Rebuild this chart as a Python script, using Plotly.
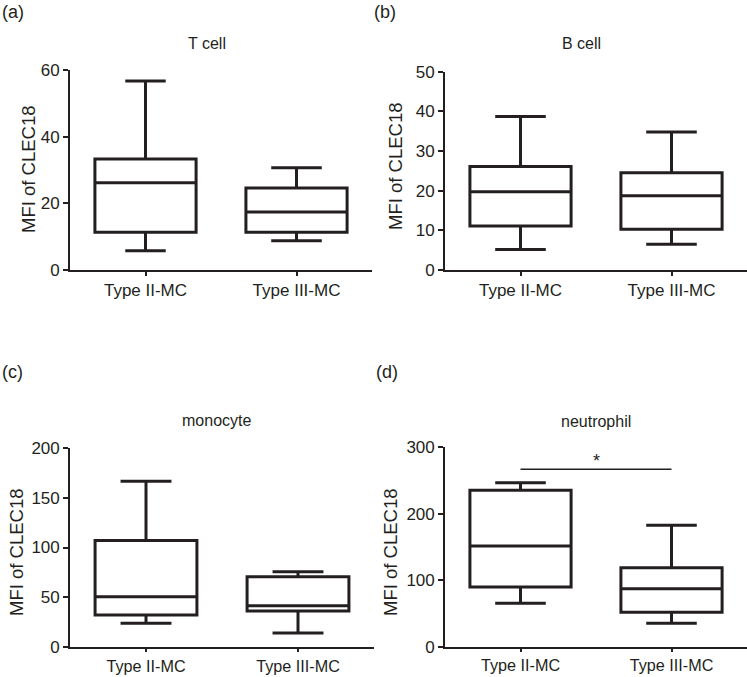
import plotly.graph_objects as go

# %% data
groups = ['Type II-MC', 'Type III-MC']
panels = ['T cell', 'B cell', 'monocyte', 'neutrophil']
letters = ['(a)', '(b)', '(c)', '(d)']

# per panel: [Type II, Type III]
t_min = [5.8, 8.8]
t_q1 = [11.3, 11.3]
t_med = [26.2, 17.4]
t_q3 = [33.3, 24.6]
t_max = [56.7, 30.7]

b_min = [5.2, 6.5]
b_q1 = [11.1, 10.3]
b_med = [19.7, 18.7]
b_q3 = [26.1, 24.5]
b_max = [38.7, 34.8]

m_min = [24.0, 14.3]
m_q1 = [32.3, 36.3]
m_med = [50.6, 41.6]
m_q3 = [107.0, 70.6]
m_max = [166.5, 75.7]

n_min = [65.3, 35.2]
n_q1 = [89.9, 51.8]
n_med = [151.6, 87.3]
n_q3 = [235.4, 118.9]
n_max = [246.8, 182.7]

y_max = [60, 50, 200, 300]
y_dtick = [20, 10, 50, 100]

stats = [
    (t_min, t_q1, t_med, t_q3, t_max),
    (b_min, b_q1, b_med, b_q3, b_max),
    (m_min, m_q1, m_med, m_q3, m_max),
    (n_min, n_q1, n_med, n_q3, n_max),
]

# %% layout in pixels
W, H = 747, 677
ink = '#231f20'
font = 'Liberation Sans, Arial, sans-serif'

# plot area boxes (x0, x1, ytop, ybottom) in px
areas = [(70, 372, 70, 270), (445, 747, 71.7, 270),
         (70, 374, 447.7, 647.3), (445, 747, 447.3, 646.7)]
title_pos = [(207, 43), (581, 43), (216, 420), (596, 421.7)]
letter_pos = [(0, 12), (372, 12), (0, 372), (374, 372)]
ylab_pos = [(28, 169), (395, 166), (16, 552), (390, 552)]
capw = [[0.4, 0.5], [0.5, 0.5], [0.5, 0.5], [0.5, 0.5]]
xfont = [17, 17, 16.2, 16.2]
xtlen = [4, 4, 3, 3]


def px(x):
    return x / W


def py(y):
    return 1 - y / H


fig = go.Figure()
annotations = []
for i in range(4):
    xa = 'x' if i == 0 else f'x{i+1}'
    ya = 'y' if i == 0 else f'y{i+1}'
    lo, q1, med, q3, hi = stats[i]
    for j, g in enumerate(groups):
        fig.add_trace(go.Box(
            x=[g], q1=[q1[j]], median=[med[j]], q3=[q3[j]],
            lowerfence=[lo[j]], upperfence=[hi[j]],
            width=0.67, whiskerwidth=capw[i][j],
            fillcolor='white', line=dict(color=ink, width=3),
            boxpoints=False, hoverinfo='skip', showlegend=False,
            xaxis=xa, yaxis=ya))
    x0, x1, yt, yb = areas[i]
    axis_common = dict(showline=True, linecolor=ink, linewidth=1.7,
                       ticks='outside', ticklen=5, tickwidth=1.7, tickcolor=ink,
                       showgrid=False, zeroline=False, fixedrange=True,
                       automargin=False,
                       tickfont=dict(family=font, size=17, color=ink))
    sx = '' if i == 0 else str(i + 1)
    fig.layout['xaxis' + sx] = dict(axis_common, domain=[px(x0), px(x1)],
                                    anchor=ya, type='category',
                                    range=[-0.5, 1.5], ticklen=xtlen[i],
                                    tickfont=dict(family=font, size=xfont[i],
                                                  color=ink),
                                    categoryorder='array', categoryarray=groups)
    fig.layout['yaxis' + sx] = dict(axis_common, domain=[py(yb), py(yt)],
                                    anchor=xa, range=[0, y_max[i]],
                                    dtick=y_dtick[i], tick0=0)
    tx, ty = title_pos[i]
    annotations.append(dict(text=panels[i], x=px(tx), y=py(ty), xref='paper',
                            yref='paper', xanchor='center', yanchor='middle',
                            showarrow=False,
                            font=dict(family=font, size=16, color=ink)))
    lx, ly = letter_pos[i]
    annotations.append(dict(text=letters[i], x=px(lx), y=py(ly), xref='paper',
                            yref='paper', xanchor='left', yanchor='middle',
                            showarrow=False,
                            font=dict(family=font, size=18, color=ink)))
    ax, ay = ylab_pos[i]
    annotations.append(dict(text='MFI of CLEC18', x=px(ax), y=py(ay),
                            xref='paper', yref='paper', textangle=-90,
                            xanchor='center', yanchor='middle',
                            showarrow=False,
                            font=dict(family=font, size=18.5, color=ink)))

# significance bar on neutrophil panel
sig_y = 267
fig.add_shape(type='line', xref='x4', yref='y4', x0=0, x1=1, y0=sig_y,
              y1=sig_y, line=dict(color=ink, width=1.7))
annotations.append(dict(text='*', xref='x4', yref='y4', x=0.5, y=sig_y,
                        yanchor='bottom', showarrow=False, yshift=-4,
                        font=dict(family=font, size=18, color=ink)))

fig.update_layout(width=W, height=H, margin=dict(l=0, r=0, t=0, b=0),
                  paper_bgcolor='white', plot_bgcolor='white',
                  annotations=annotations, boxmode='overlay')
fig.write_html('out.html', config={'displayModeBar': False},
               post_script="document.body.style.margin='0';"
                           "document.body.style.overflow='hidden';")
